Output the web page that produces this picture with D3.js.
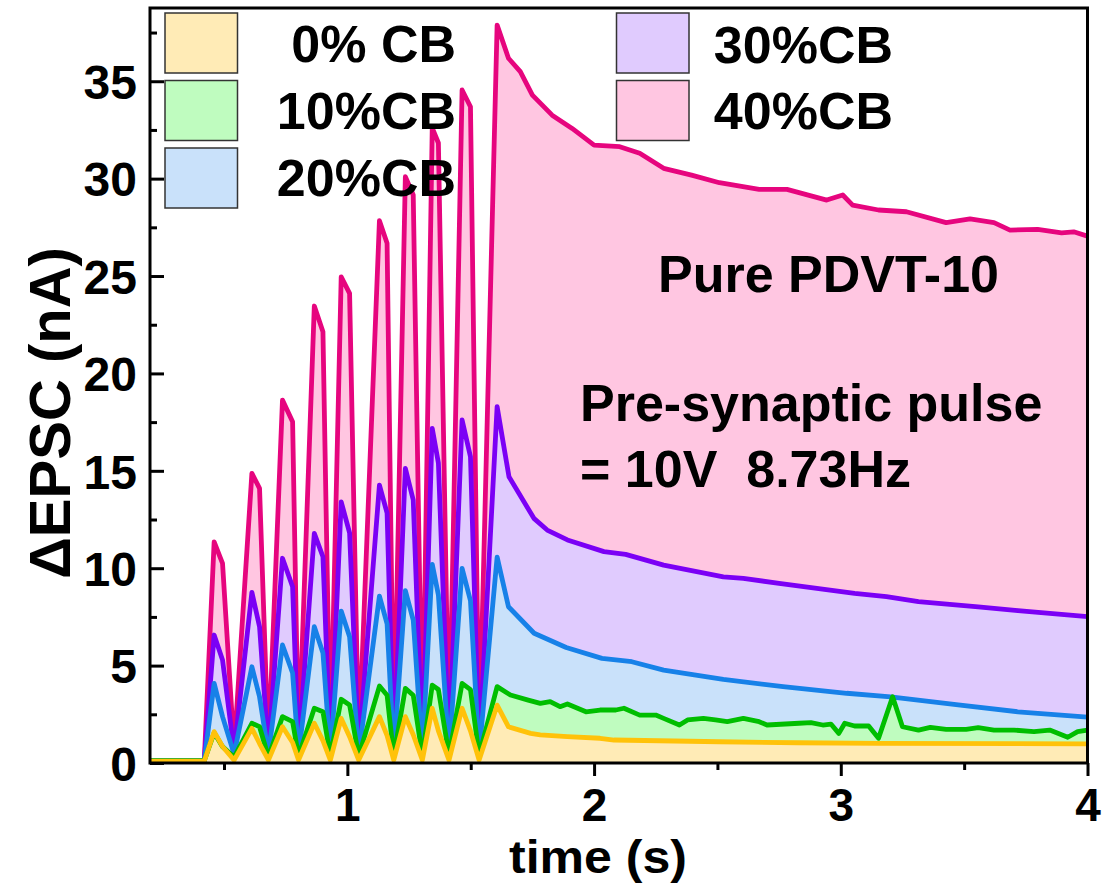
<!DOCTYPE html>
<html>
<head>
<meta charset="utf-8">
<script src="https://cdn.jsdelivr.net/npm/d3@7"></script>
<style>
  body { margin: 0; background: #fff; }
  text { font-family: "Liberation Sans", Arial, sans-serif; font-weight: bold; fill: #000; }
</style>
</head>
<body>
<svg id="chart" width="1107" height="886"></svg>
<script>
// ---- data: ΔEPSC (nA) vs time (s) for PDVT-10 films with different CB content ----
// Pulse train segment: shared sampling times (baseline, then peak / shoulder / trough per pulse)
const pulseTime = [0.2, 0.42, 0.46, 0.494, 0.541, 0.613, 0.644, 0.68, 0.737, 0.778, 0.802,
  0.866, 0.901, 0.931, 0.975, 1.009, 1.046, 1.13, 1.161, 1.188, 1.235, 1.267, 1.304,
  1.344, 1.369, 1.412, 1.465, 1.499, 1.534, 1.607];

const cb40Pulse = [0.12, 0.12, 11.35, 10.25, 0.7, 14.87, 14.1, 0.7, 18.63, 17.52, 0.7,
  23.46, 22.14, 0.75, 24.96, 24.11, 0.8, 27.84, 26.68, 0.8, 30.1, 29.16, 0.85,
  32.6, 31.83, 0.85, 34.55, 33.69, 0.9, 37.88];
const cb30Pulse = [0.12, 0.12, 6.57, 5.29, 0.6, 8.76, 7.0, 0.6, 10.51, 9.05, 0.6,
  11.79, 10.59, 0.6, 13.41, 11.81, 0.6, 14.27, 12.83, 0.6, 15.13, 13.5, 0.65,
  17.18, 15.4, 0.65, 17.61, 15.72, 0.65, 18.29];
const cb20Pulse = [0.12, 0.12, 4.09, 2.38, 0.45, 4.94, 3.4, 0.45, 6.06, 4.62, 0.45,
  7.0, 5.65, 0.45, 7.8, 6.48, 0.45, 8.57, 7.14, 0.5, 8.85, 7.34, 0.5,
  10.2, 8.62, 0.5, 9.99, 8.33, 0.5, 10.57];
const cb10Pulse = [0.12, 0.12, 1.55, 0.84, 0.3, 2.04, 1.86, 0.3, 2.38, 2.12, 0.35,
  2.81, 2.63, 0.35, 3.27, 2.98, 0.35, 3.95, 3.48, 0.35, 3.83, 3.48, 0.35,
  4.0, 3.77, 0.4, 4.09, 3.77, 0.4, 3.92];
const cb0Pulse = [0.1, 0.1, 1.61, 0.85, 0.15, 1.78, 1.0, 0.15, 1.86, 1.05, 0.15,
  2.04, 1.15, 0.15, 2.29, 1.35, 0.15, 2.38, 1.4, 0.15, 2.38, 1.45, 0.15,
  2.81, 1.65, 0.15, 2.81, 1.65, 0.15, 2.97];

// Decay segment after the last pulse
const cb40DecayTime = [1.653, 1.701, 1.750, 1.830, 1.911, 2.0, 2.104, 2.185, 2.282, 2.395,
  2.508, 2.669, 2.782, 2.943, 3.008, 3.048, 3.153, 3.266, 3.427, 3.524,
  3.621, 3.686, 3.798, 3.895, 3.944, 4.0];
const cb40Decay = [36.18, 35.49, 34.29, 33.26, 32.58, 31.72, 31.64, 31.3, 30.53, 30.18,
  29.79, 29.45, 29.45, 28.9, 29.16, 28.64, 28.39, 28.3, 27.74, 27.93,
  27.74, 27.36, 27.4, 27.22, 27.27, 27.05];

const cb30DecayTime = [1.655, 1.756, 1.810, 1.892, 2.040, 2.128, 2.282, 2.524, 2.605, 2.750,
  3.056, 3.185, 3.315, 3.557, 3.718, 4.0];
const cb30Decay = [14.7, 12.56, 11.96, 11.45, 10.85, 10.71, 10.16, 9.56, 9.48, 9.22,
  8.71, 8.54, 8.28, 8.02, 7.82, 7.51];

const cb20DecayTime = [1.653, 1.757, 1.887, 2.032, 2.153, 2.282, 2.524, 2.766, 3.024, 3.202,
  3.476, 3.718, 4.0];
const cb20Decay = [8.02, 6.66, 5.93, 5.37, 5.2, 4.77, 4.29, 3.92, 3.58, 3.4,
  2.98, 2.63, 2.35];

const cb10DecayTime = [1.661, 1.733, 1.782, 1.822, 1.862, 1.892, 1.967, 2.024, 2.088, 2.121,
  2.185, 2.25, 2.282, 2.346, 2.379, 2.443, 2.492, 2.540, 2.605, 2.669,
  2.701, 2.831, 2.879, 2.927, 2.960, 2.992, 3.016, 3.056, 3.113, 3.153,
  3.210, 3.250, 3.315, 3.363, 3.427, 3.508, 3.557, 3.621, 3.702, 3.783,
  3.847, 3.920, 3.960, 4.0];
const cb10Decay = [3.49, 3.23, 3.06, 3.15, 2.89, 3.03, 2.63, 2.72, 2.72, 2.81,
  2.46, 2.46, 2.29, 1.95, 2.21, 2.29, 2.21, 2.12, 2.29, 2.12,
  1.95, 2.04, 2.07, 1.95, 2.0, 1.52, 2.04, 1.9, 1.9, 1.27,
  3.4, 1.86, 1.69, 1.83, 1.73, 1.73, 1.81, 1.69, 1.69, 1.61,
  1.69, 1.32, 1.61, 1.69];

const cb0DecayTime = [1.653, 1.743, 1.782, 1.892, 2.024, 2.081, 2.508, 2.825, 3.153, 4.0];
const cb0Decay = [1.86, 1.52, 1.44, 1.35, 1.27, 1.18, 1.09, 1.04, 1.01, 0.98];

const legendLabels = ["0% CB", "10%CB", "20%CB", "30%CB", "40%CB"];
const xTicks = [1, 2, 3, 4];
const xMinorTicks = [0.5, 1.5, 2.5, 3.5];
const yTicks = [0, 5, 10, 15, 20, 25, 30, 35];
const yMinorTicks = [2.5, 7.5, 12.5, 17.5, 22.5, 27.5, 32.5, 37.5];

// ---- layout ----
const svg = d3.select("#chart");
const W = 1107, H = 886;
const plot = { left: 150, right: 1087.5, top: 8, bottom: 763 };

svg.append("rect").attr("width", W).attr("height", H).attr("fill", "#fff");

const x = d3.scaleLinear().domain([0.2, 4]).range([plot.left, plot.right]);
const y = d3.scaleLinear().domain([0, 38.76]).range([plot.bottom, plot.top]);

// series, back to front
const series = [
  { label: legendLabels[4], pulse: cb40Pulse, dt: cb40DecayTime, dv: cb40Decay, stroke: "#E6057E", fill: "#FFC6E1" },
  { label: legendLabels[3], pulse: cb30Pulse, dt: cb30DecayTime, dv: cb30Decay, stroke: "#7B00F5", fill: "#E0CBFE" },
  { label: legendLabels[2], pulse: cb20Pulse, dt: cb20DecayTime, dv: cb20Decay, stroke: "#1781E8", fill: "#C9E1FA" },
  { label: legendLabels[1], pulse: cb10Pulse, dt: cb10DecayTime, dv: cb10Decay, stroke: "#00BE00", fill: "#BFFCBF" },
  { label: legendLabels[0], pulse: cb0Pulse,  dt: cb0DecayTime,  dv: cb0Decay,  stroke: "#FFC20A", fill: "#FFEBB6" }
];
series.forEach(s => {
  s.points = pulseTime.map((t, i) => [t, s.pulse[i]])
    .concat(s.dt.map((t, i) => [t, s.dv[i]]));
});

svg.append("defs").append("clipPath").attr("id", "plotClip")
  .append("rect")
  .attr("x", plot.left).attr("y", plot.top)
  .attr("width", plot.right - plot.left).attr("height", plot.bottom - plot.top);

const area = d3.area()
  .x(d => x(d[0]))
  .y0(y(0))
  .y1(d => y(d[1]));
const line = d3.line()
  .x(d => x(d[0]))
  .y(d => y(d[1]));

const g = svg.append("g").attr("clip-path", "url(#plotClip)");

// filled areas first, then outlines on top
g.selectAll("path.area").data(series).join("path")
  .attr("class", "area")
  .attr("d", d => area(d.points))
  .attr("fill", d => d.fill);

g.selectAll("path.line").data(series).join("path")
  .attr("class", "line")
  .attr("d", d => line(d.points))
  .attr("fill", "none")
  .attr("stroke", d => d.stroke)
  .attr("stroke-width", 4.8)
  .attr("stroke-linejoin", "round")
  .attr("stroke-linecap", "round");

// ---- axes ----
const xAxis = svg.append("g")
  .attr("transform", `translate(0,${plot.bottom})`)
  .call(d3.axisBottom(x).tickValues(xTicks).tickSize(13).tickPadding(12).tickFormat(d3.format("d")));
const xMinor = svg.append("g")
  .attr("transform", `translate(0,${plot.bottom})`)
  .call(d3.axisBottom(x).tickValues(xMinorTicks).tickSize(7).tickFormat(""));

const yAxis = svg.append("g")
  .attr("transform", `translate(${plot.left},0)`)
  .call(d3.axisLeft(y).tickValues(yTicks).tickSize(-14).tickPadding(13).tickFormat(d3.format("d")));
const yMinor = svg.append("g")
  .attr("transform", `translate(${plot.left},0)`)
  .call(d3.axisLeft(y).tickValues(yMinorTicks).tickSize(-7).tickFormat(""));

[xAxis, xMinor, yAxis, yMinor].forEach(a => {
  a.select(".domain").remove();
  a.selectAll(".tick line").attr("stroke", "#000").attr("stroke-width", 3);
  a.selectAll("text")
    .attr("font-family", '"Liberation Sans", Arial, sans-serif')
    .attr("font-weight", "bold")
    .attr("fill", "#000");
});
yAxis.selectAll("text").attr("font-size", 48).attr("dy", "0.36em");
xAxis.selectAll("text").attr("font-size", 46).attr("dy", "0.71em");

// frame
svg.append("rect")
  .attr("x", plot.left).attr("y", plot.top)
  .attr("width", plot.right - plot.left).attr("height", plot.bottom - plot.top)
  .attr("fill", "none").attr("stroke", "#000").attr("stroke-width", 3);

// axis titles
svg.append("text")
  .attr("transform", "translate(70,413) rotate(-90)")
  .attr("text-anchor", "middle")
  .attr("font-size", 58)
  .text("ΔEPSC (nA)");
svg.append("text")
  .attr("x", 598).attr("y", 873)
  .attr("text-anchor", "middle")
  .attr("font-size", 46)
  .attr("textLength", 178)
  .attr("lengthAdjust", "spacingAndGlyphs")
  .text("time (s)");

// ---- legend ----
const legendItems = [
  { s: series[4], x: 165, y: 13, tx: 456, ty: 62 },
  { s: series[3], x: 165, y: 80.5, tx: 456, ty: 129 },
  { s: series[2], x: 165, y: 148, tx: 456, ty: 196 },
  { s: series[1], x: 616.5, y: 13, tx: 893, ty: 63 },
  { s: series[0], x: 616.5, y: 80.5, tx: 893, ty: 129 }
];
const lg = svg.append("g");
legendItems.forEach(it => {
  lg.append("rect")
    .attr("x", it.x).attr("y", it.y)
    .attr("width", 72.5).attr("height", 60)
    .attr("fill", it.s.fill)
    .attr("stroke", "#333").attr("stroke-width", 1.5);
  lg.append("text")
    .attr("x", it.tx).attr("y", it.ty)
    .attr("text-anchor", "end")
    .attr("font-size", 52)
    .text(it.s.label);
});

// ---- annotations ----
svg.append("text").attr("x", 658).attr("y", 292).attr("font-size", 52).text("Pure PDVT-10");
svg.append("text").attr("x", 580).attr("y", 421).attr("font-size", 52).text("Pre-synaptic pulse");
svg.append("text").attr("x", 580).attr("y", 487).attr("font-size", 52)
  .attr("xml:space", "preserve").style("white-space", "pre")
  .text("= 10V  8.73Hz");
</script>
</body>
</html>
